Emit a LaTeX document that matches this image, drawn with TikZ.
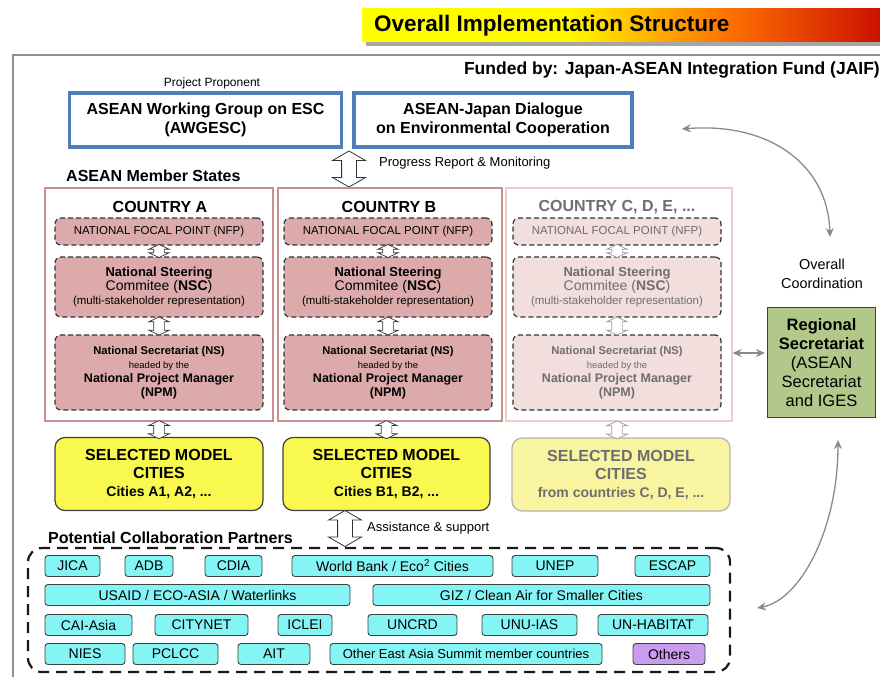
\documentclass[tikz,border=0pt]{standalone}
\usepackage{fontspec}
\setmainfont{Liberation Sans}
\usetikzlibrary{positioning, arrows.meta, shapes.arrows, calc}

\definecolor{framegray}{HTML}{8F8F8F}
\definecolor{asblue}{HTML}{4F7FBA}
\definecolor{cntborder}{HTML}{C98F8F}
\definecolor{cntpale}{HTML}{EBCFCF}
\definecolor{natpink}{HTML}{DCAAAA}
\definecolor{natpale}{HTML}{F3DEDE}
\definecolor{cityyellow}{HTML}{F8F84E}
\definecolor{citypale}{HTML}{F8F4A0}
\definecolor{secgreen}{HTML}{B2C78A}
\definecolor{partcyan}{HTML}{84F4F4}
\definecolor{partpurple}{HTML}{C99CF0}
\definecolor{linkgray}{HTML}{8A8A8A}
\definecolor{fadetext}{HTML}{6E6E6E}
\definecolor{titlered}{HTML}{CC1100}

\pgfdeclarehorizontalshading{titlebar}{100bp}{color(0bp)=(yellow); color(25bp)=(yellow); color(45bp)=(yellow!94!orange); color(60bp)=(orange!90!red); color(75bp)=(titlered); color(100bp)=(titlered)}

\newcommand{\nsctext}{{\fontsize{13}{15}\selectfont\bfseries National Steering}\\{\fontsize{14}{15}\selectfont Commitee (\textbf{NSC})}\\{\fontsize{11.5}{13}\selectfont (multi-stakeholder representation)}}
\newcommand{\nstext}{{\fontsize{11.2}{13}\selectfont\bfseries National Secretariat (NS)}\\{\fontsize{9.5}{10}\selectfont headed by the}\\{\fontsize{12.5}{15}\selectfont\bfseries National Project Manager}\\{\fontsize{12.5}{15}\selectfont\bfseries (NPM)}}

\begin{document}
\begin{tikzpicture}[
    x=1pt, y=-1pt,
    every node/.style={align=center, inner sep=0pt},
    topbox/.style={
        rectangle,
        draw=asblue,
        line width=3.5pt,
        fill=white,
        minimum height=54pt,
        font=\fontsize{16}{19}\selectfont\bfseries
    },
    countrybox/.style={
        rectangle,
        draw=cntborder,
        line width=2.8pt,
        minimum height=233pt
    },
    nat/.style={
        rectangle,
        draw=black!80,
        dash pattern=on 5pt off 3pt,
        line width=1.2pt,
        rounded corners=6pt,
        fill=natpink,
        minimum width=208pt,
        font=\fontsize{12}{14}\selectfont
    },
    natfade/.style={nat, fill=natpale, text=fadetext},
    citybox/.style={
        rectangle,
        draw=black!75,
        line width=1.2pt,
        rounded corners=10pt,
        fill=cityyellow,
        minimum height=73pt,
        font=\fontsize{16}{18}\selectfont\bfseries
    },
    partner/.style={
        rectangle,
        draw=black!75,
        line width=0.9pt,
        rounded corners=3pt,
        fill=partcyan,
        minimum height=21pt,
        font=\fontsize{14}{16}\selectfont
    },
    bigdbl/.style={double arrow, draw=black!80, fill=white, line width=0.8pt,
        shape border rotate=90, inner xsep=7pt, inner ysep=0pt,
        double arrow head extend=9pt, double arrow tip angle=120},
    smalldbl/.style={double arrow, draw=black!80, fill=white, line width=0.7pt,
        shape border rotate=90, inner xsep=5pt, inner ysep=0pt,
        double arrow head extend=5pt, double arrow tip angle=130},
    linkarrow/.style={draw=linkgray, line width=1.3pt,
        {Stealth[length=9pt,width=8pt]}-{Stealth[length=9pt,width=8pt]}}
]
    \useasboundingbox (0,0) rectangle (880,677);

    % title bar
    \fill[black!35] (366,13) rectangle (880,46);
    \shade[shading=titlebar] (362,9) rectangle (880,42);
    \node[anchor=west, font=\fontsize{22.5}{26}\selectfont\bfseries] (title) at (374,26) {Overall Implementation Structure};
    \draw[framegray, line width=1.2pt] (13,677) -- (13,55) -- (880,55);
    \node[anchor=east, font=\fontsize{17.5}{20}\selectfont\bfseries] (funded) at (880,70) {Funded by: Japan-ASEAN Integration Fund (JAIF)};

    % top level
    \node[font=\fontsize{12}{14}\selectfont] (proponent) at (212,83) {Project Proponent};
    \node[topbox, minimum width=272pt] (awgesc) at (205.5,120) {ASEAN Working Group on ESC\\(AWGESC)};
    \node[topbox, minimum width=278pt] (dialogue) at (493,120) {ASEAN-Japan Dialogue\\on Environmental Cooperation};
    \node[bigdbl, minimum height=36pt] (progarrow) at (349,169) {};
    \node[anchor=west, font=\fontsize{13}{15}\selectfont] (progress) at (379,163) {Progress Report \& Monitoring};
    \node[anchor=west, font=\fontsize{16}{19}\selectfont\bfseries] (states) at (66,176) {ASEAN Member States};

    % countries
    \node[countrybox, minimum width=228pt] (cntA) at (159,304.5) {};
    \node[countrybox, minimum width=224pt] (cntB) at (390,304.5) {};
    \node[countrybox, draw=cntpale, minimum width=226pt] (cntC) at (619,304.5) {};
    \node[font=\fontsize{16}{19}\selectfont\bfseries] (titleA) at (160,207) {COUNTRY A};
    \node[font=\fontsize{16}{19}\selectfont\bfseries] (titleB) at (389,207) {COUNTRY B};
    \node[font=\fontsize{16}{19}\selectfont\bfseries, text=fadetext] (titleC) at (617,207) {COUNTRY C, D, E, ...};

    \node[nat, minimum height=27pt, font=\fontsize{11.5}{13}\selectfont] (nfpA) at (159,231.5) {NATIONAL FOCAL POINT (NFP)};
    \node[nat, minimum height=60pt] (nscA) at (159,287) {\nsctext};
    \node[nat, minimum height=75pt] (nsA) at (159,372.5) {\nstext};
    \node[nat, minimum height=27pt, font=\fontsize{11.5}{13}\selectfont] (nfpB) at (388,231.5) {NATIONAL FOCAL POINT (NFP)};
    \node[nat, minimum height=60pt] (nscB) at (388,287) {\nsctext};
    \node[nat, minimum height=75pt] (nsB) at (388,372.5) {\nstext};
    \node[natfade, minimum height=27pt, font=\fontsize{11.5}{13}\selectfont] (nfpC) at (617,231.5) {NATIONAL FOCAL POINT (NFP)};
    \node[natfade, minimum height=60pt] (nscC) at (617,287) {\nsctext};
    \node[natfade, minimum height=75pt] (nsC) at (617,372.5) {\nstext};

    \node[smalldbl, minimum height=13pt] (arA1) at ($(nfpA.south)!.5!(nscA.north)$) {};
    \node[smalldbl, minimum height=18pt] (arA2) at ($(nscA.south)!.5!(nsA.north)$) {};
    \node[smalldbl, minimum height=13pt] (arB1) at ($(nfpB.south)!.5!(nscB.north)$) {};
    \node[smalldbl, minimum height=18pt] (arB2) at ($(nscB.south)!.5!(nsB.north)$) {};
    \node[smalldbl, draw=black!40, minimum height=13pt] (arC1) at ($(nfpC.south)!.5!(nscC.north)$) {};
    \node[smalldbl, draw=black!40, minimum height=18pt] (arC2) at ($(nscC.south)!.5!(nsC.north)$) {};

    % model cities
    \node[citybox, minimum width=208pt] (cityA) at (159,474) {SELECTED MODEL\\CITIES\\{\fontsize{14}{16}\selectfont Cities A1, A2, ...}};
    \node[citybox, minimum width=207pt] (cityB) at (386.5,474) {SELECTED MODEL\\CITIES\\{\fontsize{14}{16}\selectfont Cities B1, B2, ...}};
    \node[citybox, minimum width=218pt, fill=citypale, draw=black!30, text=fadetext] (cityC) at (621,474.5) {SELECTED MODEL\\CITIES\\{\fontsize{14}{16}\selectfont from countries C, D, E, ...}};
    \node[smalldbl, minimum height=18pt] (arA3) at ($(cntA.south -| cityA.north)!.5!(cityA.north)$) {};
    \node[smalldbl, minimum height=18pt] (arB3) at ($(cntB.south -| cityB.north)!.5!(cityB.north)$) {};
    \node[smalldbl, draw=black!40, minimum height=18pt] (arC3) at ($(cntC.south -| nsC.south)!.5!(cityC.north -| nsC.south)$) {};

    % regional secretariat
    \node[draw=black!75, line width=1.2pt, fill=secgreen, minimum width=108pt, minimum height=110pt,
          font=\fontsize{16.5}{18.8}\selectfont] (regsec) at (821.5,362.5)
          {\textbf{Regional}\\\textbf{Secretariat}\\(ASEAN\\Secretariat\\and IGES};
    \node[font=\fontsize{14.4}{19}\selectfont] (coord) at (822,274) {Overall\\Coordination};
    \coordinate (coordtop) at ($(dialogue.east)+(48,9)$);
    \coordinate (coordbot) at (830,237);
    \draw[linkarrow] (coordtop) .. controls (770,122) and (828,165) .. (coordbot);
    \draw[linkarrow, shorten <=11pt, shorten >=2pt] ([yshift=19.5pt]nsC.east) -- ([yshift=19.5pt]nsC.east -| regsec.west);

    % partners
    \node[bigdbl, minimum height=36pt] (assistarrow) at (345,528.5) {};
    \node[anchor=west, font=\fontsize{13}{15}\selectfont] (assist) at (367,528) {Assistance \& support};
    \node[anchor=west, font=\fontsize{16}{19}\selectfont\bfseries] (partnerlabel) at (48,538) {Potential Collaboration Partners};
    \node[draw=black!90, line width=2.2pt, dash pattern=on 11pt off 7pt, rounded corners=14pt,
          minimum width=702pt, minimum height=124pt] (partners) at (379,610) {};
    \coordinate (partop) at (838,440);
    \coordinate (parbot) at (757,608);
    \draw[linkarrow] (partop) .. controls (838,530) and (800,600) .. (parbot);

    \node[partner, minimum width=55pt] (jica) at (72.5,566) {JICA};
    \node[partner, minimum width=48pt] (adb) at (149,566) {ADB};
    \node[partner, minimum width=57pt] (cdia) at (233.5,566) {CDIA};
    \node[partner, minimum width=201pt, font=\fontsize{14}{16}\selectfont] (worldbank) at (392.5,566) {World Bank / Eco\textsuperscript{2} Cities};
    \node[partner, minimum width=86pt] (unep) at (555,566) {UNEP};
    \node[partner, minimum width=75pt] (escap) at (672.5,566) {ESCAP};
    \node[partner, minimum width=305pt] (usaid) at (197.5,595) {USAID / ECO-ASIA / Waterlinks};
    \node[partner, minimum width=337pt] (giz) at (541.5,595) {GIZ / Clean Air for Smaller Cities};
    \node[partner, minimum width=87pt] (caiasia) at (88.5,625) {CAI-Asia};
    \node[partner, minimum width=93pt] (citynet) at (201.5,625) {CITYNET};
    \node[partner, minimum width=54pt] (iclei) at (305,625) {ICLEI};
    \node[partner, minimum width=89pt] (uncrd) at (412.5,625) {UNCRD};
    \node[partner, minimum width=95pt] (unuias) at (529.5,625) {UNU-IAS};
    \node[partner, minimum width=110pt] (unhabitat) at (653,625) {UN-HABITAT};
    \node[partner, minimum width=80pt] (nies) at (85,654) {NIES};
    \node[partner, minimum width=85pt] (pclcc) at (175.5,654) {PCLCC};
    \node[partner, minimum width=72pt] (ait) at (274,654) {AIT};
    \node[partner, minimum width=272pt, font=\fontsize{13}{15}\selectfont] (eas) at (466,654) {Other East Asia Summit member countries};
    \node[partner, minimum width=72pt, fill=partpurple] (others) at (669,654) {Others};
\end{tikzpicture}
\end{document}
